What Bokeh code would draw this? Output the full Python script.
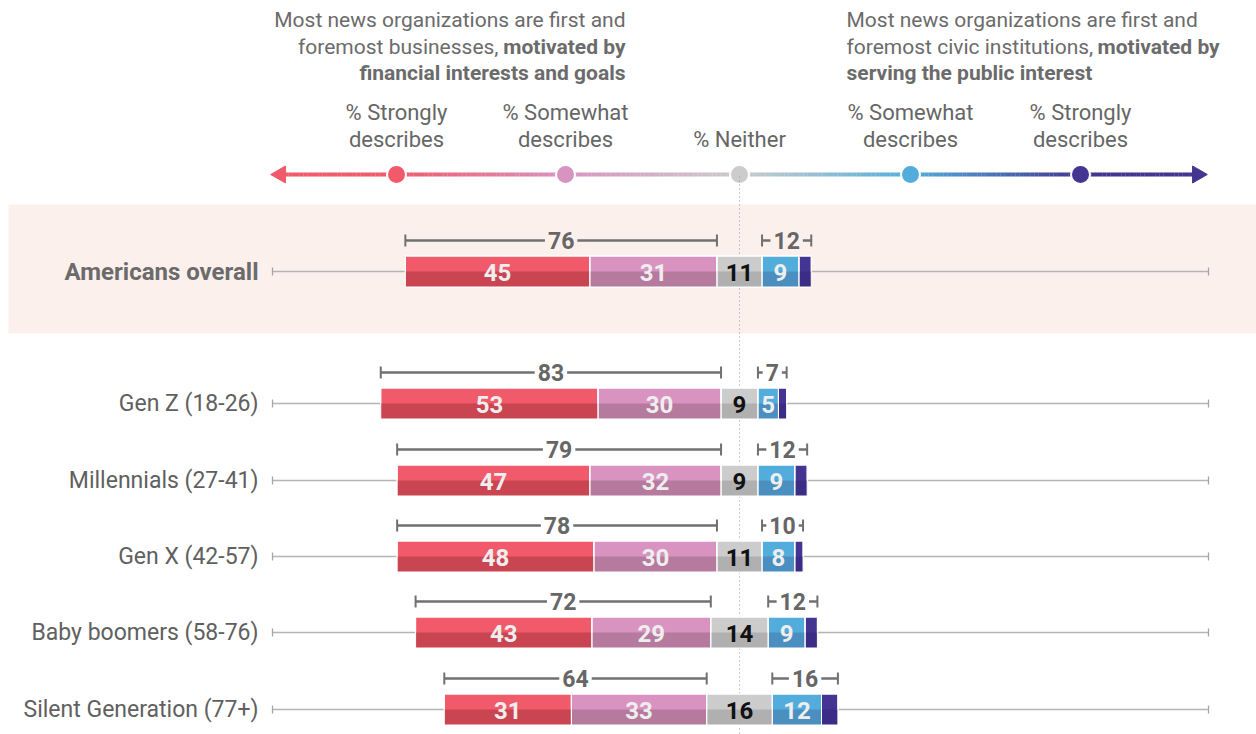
from bokeh.plotting import figure
from bokeh.models import Range1d, BoxAnnotation, ColumnDataSource
from bokeh.core.properties import value
from bokeh.embed import file_html
from bokeh.resources import INLINE

# ---------------- data ----------------
groups = ["Americans overall", "Gen Z (18-26)", "Millennials (27-41)",
          "Gen X (42-57)", "Baby boomers (58-76)", "Silent Generation (77+)"]
strongly_business = [45, 53, 47, 48, 43, 31]
somewhat_business = [31, 30, 32, 30, 29, 33]
neither = [11, 9, 9, 11, 14, 16]
somewhat_public = [9, 5, 9, 8, 9, 12]
strongly_public = [3, 2, 3, 2, 3, 4]
net_business = [76, 83, 79, 78, 72, 64]
net_public = [12, 7, 12, 10, 12, 16]

legend_labels = [["% Strongly", "describes"], ["% Somewhat", "describes"], ["% Neither"],
                 ["% Somewhat", "describes"], ["% Strongly", "describes"]]

# ---------------- style / layout ----------------
FONT = value("Roboto")
light = ["#f05a6a", "#d993c0", "#cccccc", "#52addc", "#433591"]
dark = ["#c94552", "#b57a9e", "#b0b0b0", "#4a8fc0", "#3b2c85"]
BAND = "#fcf0ec"

W, H = 1256, 734
PX = 4.1                      # pixels per percentage point
CX = 739                      # pixel position of the centre of "Neither"


def ux(px):
    return (px - CX) / PX


def uy(py):
    return py


row_y = [uy(v) for v in (271, 403, 480, 556, 632, 709)]
BAR_H = 31

p = figure(width=W, height=H, output_backend="svg", toolbar_location=None,
           x_range=Range1d(-CX / PX, (W - CX) / PX), y_range=Range1d(H, 0),
           min_border=0, outline_line_color=None, background_fill_color="white",
           border_fill_color="white")
p.axis.visible = False
p.grid.visible = False

p.add_layout(BoxAnnotation(top=uy(204), bottom=uy(333), left=ux(8), fill_color=BAND, fill_alpha=1,
                           line_color=None, level="underlay"))

# ---------------- header ----------------
hdr = dict(text_font=FONT, text_font_size="21px", text_color="#6b6b6b", text_baseline="middle")
p.text(x=[ux(625)], y=[uy(19)], text=["Most news organizations are first and"], text_align="right", **hdr)
p.text(x=[ux(625)], y=[uy(46)], text=["motivated by"], text_align="right", text_font_style="bold", **hdr)
p.text(x=[ux(498)], y=[uy(46)], text=["foremost businesses,"], text_align="right", **hdr)
p.text(x=[ux(625)], y=[uy(72)], text=["financial interests and goals"], text_align="right",
       text_font_style="bold", **hdr)

p.text(x=[ux(846)], y=[uy(19)], text=["Most news organizations are first and"], text_align="left", **hdr)
p.text(x=[ux(846)], y=[uy(46)], text=["foremost civic institutions,"], text_align="left", **hdr)
p.text(x=[ux(1097)], y=[uy(46)], text=["motivated by"], text_align="left", text_font_style="bold", **hdr)
p.text(x=[ux(846)], y=[uy(72)], text=["serving the public interest"], text_align="left",
       text_font_style="bold", **hdr)

# ---------------- legend scale ----------------
dot_x = [ux(v) for v in (396, 565, 739, 910, 1080)]
leg = dict(text_font=FONT, text_font_size="22px", text_color="#666666", text_baseline="middle",
           text_align="center")
for x, lines in zip(dot_x, legend_labels):
    if len(lines) == 2:
        p.text(x=[x], y=[uy(112)], text=[lines[0]], **leg)
        p.text(x=[x], y=[uy(139)], text=[lines[1]], **leg)
    else:
        p.text(x=[x], y=[uy(139)], text=[lines[0]], **leg)


def hex2rgb(h):
    h = h.lstrip("#")
    return tuple(int(h[i:i + 2], 16) for i in (0, 2, 4))


stops = [(ux(285), light[0])] + list(zip(dot_x, light)) + [(ux(1192), light[4])]
ly = uy(174)
xs0, xs1, cols = [], [], []
N = 240
a0, a1 = ux(284), ux(1193)
for i in range(N):
    xa = a0 + (a1 - a0) * i / N
    xb = a0 + (a1 - a0) * (i + 1) / N
    xm = (xa + xb) / 2
    col = light[0] if xm < 0 else light[4]
    for (s0, c0), (s1, c1) in zip(stops[:-1], stops[1:]):
        if s0 <= xm <= s1:
            t = (xm - s0) / (s1 - s0) if s1 > s0 else 0
            r0, r1 = hex2rgb(c0), hex2rgb(c1)
            rgb = tuple(int(round(r0[k] + (r1[k] - r0[k]) * t)) for k in range(3))
            col = "#%02x%02x%02x" % rgb
            break
    cols.append(col)
    xs0.append(xa)
    xs1.append(xb + 0.05)
p.segment(x0=xs0, x1=xs1, y0=[ly] * N, y1=[ly] * N, line_color=cols, line_width=4)
p.scatter(x=[ux(280)], y=[ly], marker="triangle", size=17, angle=1.5708, angle_units="rad",
          fill_color=light[0], line_color=light[0])
p.scatter(x=[ux(1197)], y=[ly], marker="triangle", size=17, angle=-1.5708, angle_units="rad",
          fill_color=light[4], line_color=light[4])
p.scatter(x=dot_x, y=[ly] * 5, size=19, fill_color=light, line_color="white", line_width=2)

p.segment(x0=[0], x1=[0], y0=[uy(176)], y1=[H], line_color="#999999", line_width=1, line_dash="1 3")

# ---------------- rows ----------------
base_l, base_r = ux(272), ux(1208)
p.segment(x0=[base_l] * 6, x1=[base_r] * 6, y0=row_y, y1=row_y, line_color="#b5b5b5", line_width=1.3)
p.segment(x0=[base_l] * 6, x1=[base_l] * 6, y0=[y - 4 for y in row_y], y1=[y + 4 for y in row_y],
          line_color="#a5a5a5", line_width=1.3)
p.segment(x0=[base_r] * 6, x1=[base_r] * 6, y0=[y - 4 for y in row_y], y1=[y + 4 for y in row_y],
          line_color="#a5a5a5", line_width=1.3)

seg = dict(left=[], right=[], y=[], light=[], dark=[], ymid=[])
lab = dict(x=[], y=[], text=[], color=[])
brk = dict(x0=[], x1=[], y=[], ya=[], yb=[], mid=[], text=[], bg=[])
for i in range(len(groups)):
    n = neither[i]
    edges = [-n / 2 - somewhat_business[i] - strongly_business[i],
             -n / 2 - somewhat_business[i], -n / 2, n / 2,
             n / 2 + somewhat_public[i], n / 2 + somewhat_public[i] + strongly_public[i]]
    vals = [strongly_business[i], somewhat_business[i], neither[i], somewhat_public[i], strongly_public[i]]
    for k in range(5):
        seg["left"].append(edges[k])
        seg["right"].append(edges[k + 1])
        seg["y"].append(row_y[i])
        seg["ymid"].append(row_y[i] + BAR_H / 4)
        seg["light"].append(light[k])
        seg["dark"].append(dark[k])
        if k < 4:
            lab["x"].append((edges[k] + edges[k + 1]) / 2)
            lab["y"].append(row_y[i] + 1)
            lab["text"].append(str(vals[k]))
            lab["color"].append("#111111" if k == 2 else "#eeeeee")
    by = row_y[i] - 31
    bg = BAND if i == 0 else "white"
    brk["x0"] += [edges[0], edges[3]]
    brk["x1"] += [edges[2], edges[5]]
    brk["y"] += [by, by]
    brk["ya"] += [by - 6, by - 6]
    brk["yb"] += [by + 6, by + 6]
    brk["mid"] += [(edges[0] + edges[2]) / 2, (edges[3] + edges[5]) / 2]
    brk["text"] += [str(net_business[i]), str(net_public[i])]
    brk["bg"] += [bg, bg]

src = ColumnDataSource(seg)
p.hbar(y="y", height=BAR_H, left="left", right="right", fill_color="light",
       line_color="white", line_width=1, source=src)
p.hbar(y="ymid", height=BAR_H / 2, left="left", right="right", fill_color="dark",
       line_color=None, source=src)
p.hbar(y="y", height=BAR_H, left="left", right="right", fill_color=None,
       line_color="white", line_width=1, source=src)

p.text(x="x", y="y", text="text", text_color="color", source=ColumnDataSource(lab),
       text_font=FONT, text_font_size="24px", text_font_style="bold",
       text_align="center", text_baseline="middle")

bsrc = ColumnDataSource(brk)
p.segment(x0="x0", x1="x1", y0="y", y1="y", line_color="#707070", line_width=2.5, source=bsrc)
p.segment(x0="x0", x1="x0", y0="ya", y1="yb", line_color="#707070", line_width=2, source=bsrc)
p.segment(x0="x1", x1="x1", y0="ya", y1="yb", line_color="#707070", line_width=2, source=bsrc)
p.text(x="mid", y="y", text="text", source=bsrc, text_color="#666666",
       background_fill_color="bg", padding=3,
       text_font=FONT, text_font_size="23px", text_font_style="bold",
       text_align="center", text_baseline="middle")

p.text(x=[ux(258)], y=[row_y[0]], text=[groups[0]], text_font=FONT, text_font_size="24px",
       text_font_style="bold", text_color="#6b6b6b", text_align="right", text_baseline="middle")
p.text(x=[ux(258)] * 5, y=row_y[1:], text=groups[1:], text_font=FONT, text_font_size="23px",
       text_color="#606060", text_align="right", text_baseline="middle")

open("out.html", "w").write(file_html(p, INLINE))
